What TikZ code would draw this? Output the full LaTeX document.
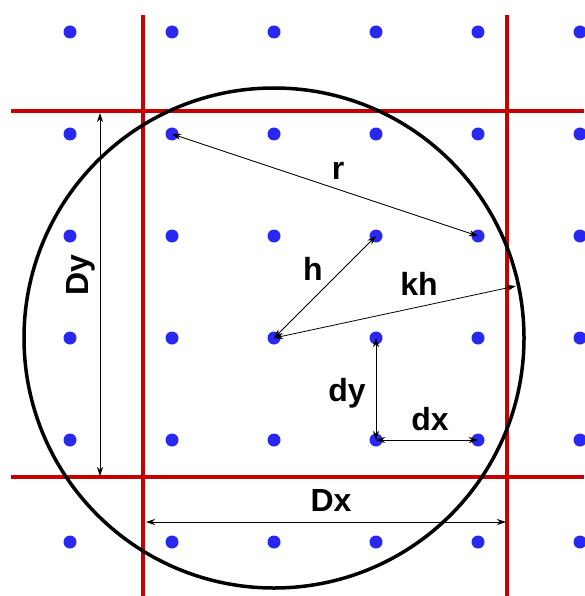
\documentclass[tikz,border=0pt]{standalone}
\usepackage{fontspec}
\setmainfont{Liberation Sans}
\usetikzlibrary{arrows.meta}
\definecolor{gridred}{RGB}{200,0,0}
\definecolor{dotblue}{RGB}{40,40,240}
\begin{document}
\begin{tikzpicture}[x=1pt,y=-1pt,
  dot/.style={circle,fill=dotblue,inner sep=0pt,minimum size=13pt},
  redline/.style={gridred,line width=4.5pt},
  dimarrow/.style={{Stealth[length=9pt,width=6pt]}-{Stealth[length=9pt,width=6pt]},line width=0.8pt},
  lbl/.style={font=\fontsize{32}{32}\selectfont\bfseries,inner sep=0pt}]
\useasboundingbox (0,0) rectangle (584,596);
% red grid lines
\draw[redline] (11,111) -- (584,111);
\draw[redline] (11,477) -- (584,477);
\draw[redline] (143,15) -- (143,596);
\draw[redline] (507,15) -- (507,596);
% dots
\foreach \i in {0,...,5}{
  \foreach \j in {0,...,5}{
    \node[dot] (p\i\j) at ({70+102*\i},{32+102*\j}) {};
  }
}
% circle
\draw[line width=3.5pt] (p23.center) circle[radius=250];
% free ends
\coordinate (khend) at (516,286);
\coordinate (dyt) at (100,113);
\coordinate (dyb) at (100,476);
\coordinate (dxl) at (146,522);
\coordinate (dxr) at (506,522);
% arrows
\draw[dimarrow] (p11.center) -- (p42.center);
\draw[dimarrow] (p23.center) -- (p32.center);
\draw[dimarrow] (p23.center) -- (khend);
\draw[dimarrow] (p34.center) -- (p33.center);
\draw[dimarrow] (p34.center) -- (p44.center);
\draw[dimarrow] (dyt) -- (dyb);
\draw[dimarrow] (dxl) -- (dxr);
% labels
\node[lbl] (lr) at (338,171) {r};
\node[lbl] (lh) at (313,269) {h};
\node[lbl] (lkh) at (419,284) {kh};
\node[lbl] (ldy) at (347,393) {dy};
\node[lbl] (ldx) at (430,419) {dx};
\node[lbl] (lDx) at (331,500) {Dx};
\node[lbl,rotate=90] (lDy) at (81,275) {Dy};
\end{tikzpicture}
\end{document}
